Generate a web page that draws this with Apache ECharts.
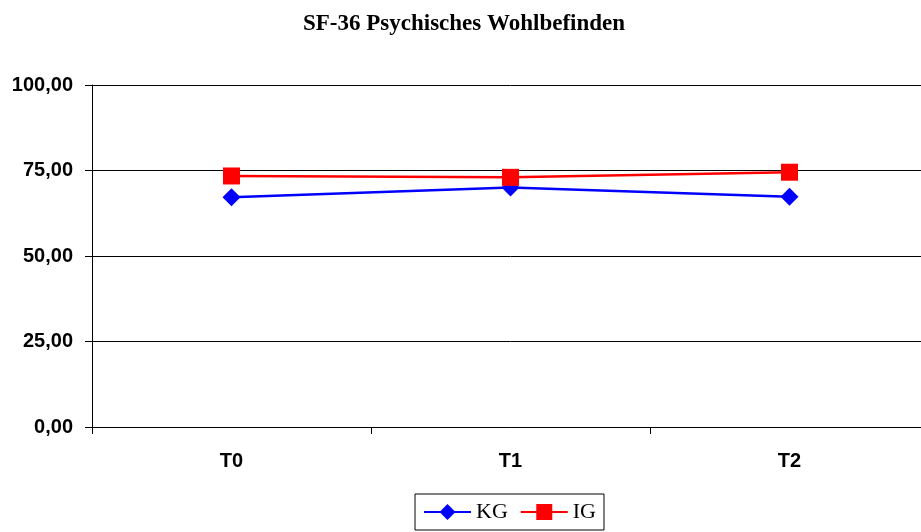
<!DOCTYPE html>
<html>
<head>
<meta charset="utf-8">
<script src="https://cdn.jsdelivr.net/npm/echarts@6/dist/echarts.min.js"></script>
<style>
  html, body { margin: 0; padding: 0; background: #ffffff; overflow: hidden; }
  /* the canvas is slightly wider than the window so the plot area runs past the right edge */
  #chart { width: 930px; height: 532px; }
</style>
</head>
<body>
<div id="chart"></div>
<script>
// Measurement points and group means
const categories = ['T0', 'T1', 'T2'];
const kgValues = [67.2, 70.0, 67.3];
const igValues = [73.4, 73.0, 74.5];
const yTicks = [0, 25, 50, 75, 100];

const chart = echarts.init(document.getElementById('chart'), null, { renderer: 'canvas' });

const fmt = v => v.toFixed(2).replace('.', ',');

chart.setOption({
  backgroundColor: '#ffffff',
  animation: false,
  title: {
    text: 'SF-36 Psychisches Wohlbefinden',
    left: 303,
    top: 13,
    padding: 0,
    textStyle: {
      fontFamily: 'Liberation Serif',
      fontWeight: 'bold',
      fontSize: 23,
      color: '#000000'
    }
  },
  legend: {
    data: ['KG', 'IG'],
    left: 415,
    top: 494,
    padding: [7, 8],
    itemWidth: 47,
    itemHeight: 20,
    itemGap: 12,
    borderColor: '#000000',
    borderWidth: 1,
    borderRadius: 0,
    textStyle: {
      fontFamily: 'Liberation Serif',
      fontSize: 22,
      color: '#000000'
    }
  },
  grid: {
    left: 92,
    width: 837,
    top: 85,
    height: 342,
    containLabel: false
  },
  xAxis: {
    type: 'category',
    data: categories,
    boundaryGap: true,
    axisLine: { lineStyle: { color: '#000000', width: 1 } },
    axisTick: { show: true, inside: false, length: 7, lineStyle: { color: '#000000' } },
    axisLabel: {
      margin: 24,
      fontFamily: 'Liberation Sans',
      fontWeight: 'bold',
      fontSize: 20,
      color: '#000000'
    },
    splitLine: { show: false }
  },
  yAxis: {
    type: 'value',
    min: yTicks[0],
    max: yTicks[yTicks.length - 1],
    interval: yTicks[1] - yTicks[0],
    axisLine: { show: true, lineStyle: { color: '#000000', width: 1 } },
    axisTick: { show: true, inside: false, length: 7, lineStyle: { color: '#000000' } },
    axisLabel: {
      margin: 19,
      formatter: fmt,
      fontFamily: 'Liberation Sans',
      fontWeight: 'bold',
      fontSize: 20,
      color: '#000000'
    },
    splitLine: { show: true, lineStyle: { color: '#000000', width: 1 } }
  },
  series: [
    {
      name: 'KG',
      type: 'line',
      data: kgValues,
      symbol: 'diamond',
      symbolSize: 18,
      lineStyle: { color: '#0000ff', width: 2.5 },
      itemStyle: { color: '#0000ff' }
    },
    {
      name: 'IG',
      type: 'line',
      data: igValues,
      symbol: 'rect',
      symbolSize: 17,
      lineStyle: { color: '#ff0000', width: 2.5 },
      itemStyle: { color: '#ff0000' }
    }
  ]
});
</script>
</body>
</html>
